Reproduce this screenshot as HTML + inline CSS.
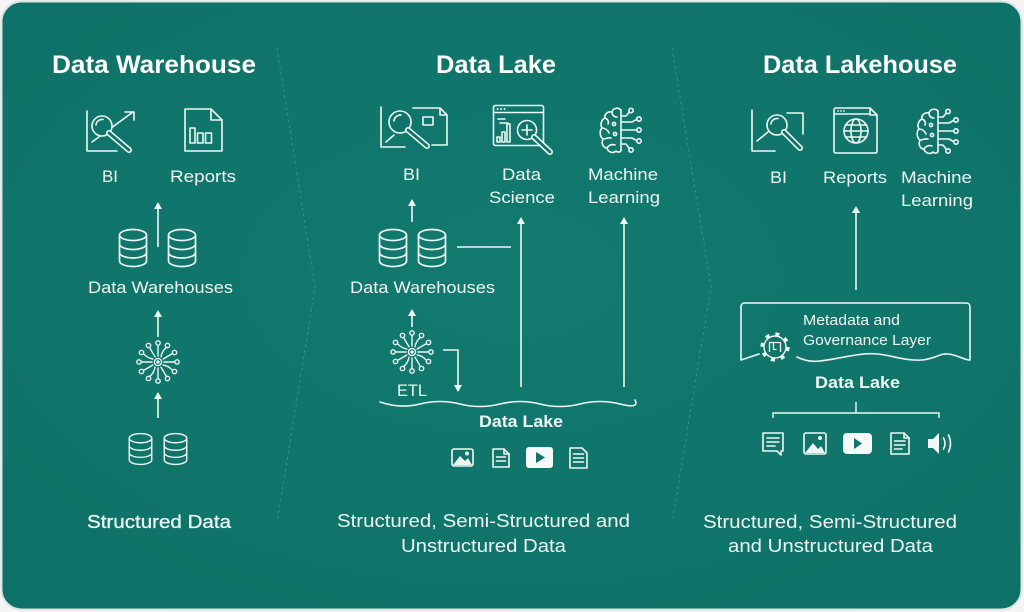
<!DOCTYPE html>
<html>
<head>
<meta charset="utf-8">
<style>
  html,body{margin:0;padding:0;background:#f3f5f4;}
  svg{display:block;}
  text{font-family:"Liberation Sans", Arial, sans-serif;fill:#EEF7F4;}
  .t{font-size:25px;font-weight:bold;fill:#ffffff;}
  .l{font-size:17px;}
  .b{font-size:17px;font-weight:bold;}
  .s{font-size:18px;}
  .m{font-size:15px;}
  .ic{fill:none;stroke:#EEF7F4;stroke-width:1.6;stroke-linecap:round;stroke-linejoin:round;}
</style>
</head>
<body>
<svg width="1024" height="612" viewBox="0 0 1024 612" xmlns="http://www.w3.org/2000/svg">
  <defs>
    <radialGradient id="bg" cx="50%" cy="45%" r="70%">
      <stop offset="0" stop-color="#127A6F"/>
      <stop offset="1" stop-color="#0E7167"/>
    </radialGradient>
    <symbol id="db" viewBox="0 0 30 40">
      <g fill="none" stroke="#EEF7F4" stroke-width="1.7" stroke-linecap="round">
        <ellipse cx="15" cy="7" rx="13.5" ry="5.5"/>
        <path d="M1.5 7 V33 A13.5 5.5 0 0 0 28.5 33 V7"/>
        <path d="M1.5 16 A13.5 5.5 0 0 0 28.5 16"/>
        <path d="M1.5 24.5 A13.5 5.5 0 0 0 28.5 24.5"/>
      </g>
    </symbol>
    <symbol id="hub" viewBox="-22 -22 44 44">
      <g fill="none" stroke="#EEF7F4" stroke-width="1.4" stroke-linecap="round">
        <circle cx="0" cy="0" r="3.6"/>
        <circle cx="0" cy="0" r="1" fill="#EEF7F4"/>
        <path d="M6 0 H16.5"/><circle cx="19" cy="0" r="2.2"/>
        <path d="M5.2 3 Q11 4 14.3 8.25"/><circle cx="16.5" cy="9.5" r="2.2"/>
        <path d="M3 5.2 Q6 10 8.25 14.3"/><circle cx="9.5" cy="16.5" r="2.2"/>
        <path d="M0 6 V16.5"/><circle cx="0" cy="19" r="2.2"/>
        <path d="M-3 5.2 Q-4 11 -8.25 14.3"/><circle cx="-9.5" cy="16.5" r="2.2"/>
        <path d="M-5.2 3 Q-10 6 -14.3 8.25"/><circle cx="-16.5" cy="9.5" r="2.2"/>
        <path d="M-6 0 H-16.5"/><circle cx="-19" cy="0" r="2.2"/>
        <path d="M-5.2 -3 Q-11 -4 -14.3 -8.25"/><circle cx="-16.5" cy="-9.5" r="2.2"/>
        <path d="M-3 -5.2 Q-6 -10 -8.25 -14.3"/><circle cx="-9.5" cy="-16.5" r="2.2"/>
        <path d="M0 -6 V-16.5"/><circle cx="0" cy="-19" r="2.2"/>
        <path d="M3 -5.2 Q4 -11 8.25 -14.3"/><circle cx="9.5" cy="-16.5" r="2.2"/>
        <path d="M5.2 -3 Q10 -6 14.3 -8.25"/><circle cx="16.5" cy="-9.5" r="2.2"/>
      </g>
    </symbol>
    <symbol id="brain" viewBox="0 0 46 47">
      <g fill="none" stroke="#EEF7F4" stroke-width="1.6" stroke-linecap="round" stroke-linejoin="round">
        <path d="M22 3 C19 0 14 1 13 5 C9 4 5 7 6 11 C2 13 1 18 3 21 C0 24 1 30 4 32 C2 36 4 41 8 41 C9 45 14 47 17 44 C19 46 22 45 22 43"/>
        <path d="M22 3 V43"/>
        <path d="M13 5 C13 8 15 10 18 10"/>
        <path d="M6 11 C9 12 10 15 9 17"/>
        <path d="M3 21 C6 21 9 23 10 26"/>
        <path d="M4 32 C7 32 9 30 12 31"/>
        <path d="M8 41 C10 38 13 37 16 38"/>
        <circle cx="15" cy="17" r="1.6"/>
        <circle cx="16" cy="27" r="1.6"/>
        <path d="M22 9 H27 L30 5.5"/><circle cx="32" cy="3.5" r="2.2"/>
        <path d="M22 15 H33 L37.5 12.5"/><circle cx="40" cy="12" r="2.2"/>
        <path d="M22 23 H37.5"/><circle cx="40" cy="23" r="2.2"/>
        <path d="M22 31 H33 L37.5 33.5"/><circle cx="40" cy="34" r="2.2"/>
        <path d="M22 37 H27 L30 41"/><circle cx="32" cy="43" r="2.2"/>
      </g>
    </symbol>
  </defs>

  <!-- card -->
  <rect x="1.5" y="1.5" width="1020" height="608" rx="20" ry="20" fill="url(#bg)" stroke="#dce5e2" stroke-width="2"/>

  <!-- dashed dividers -->
  <path d="M277 48 L315 287 L277 523" fill="none" stroke="#4FA79B" stroke-opacity="0.55" stroke-width="1" stroke-dasharray="3 3"/>
  <path d="M672 48 L711 287 L672 523" fill="none" stroke="#4FA79B" stroke-opacity="0.55" stroke-width="1" stroke-dasharray="3 3"/>

  <!-- ============ LEFT: DATA WAREHOUSE ============ -->
  <text class="t" x="154" y="73" text-anchor="middle" textLength="204" lengthAdjust="spacingAndGlyphs">Data Warehouse</text>

  <!-- BI icon -->
  <g class="ic">
    <path d="M87 111 V151 H117"/>
    <path d="M92 142 L133 112"/>
    <path d="M125 112 H134 V120"/>
    <circle cx="102" cy="126" r="10" fill="#10746A"/>
    <path d="M96 125 A6 6 0 0 1 103 119.5"/>
  </g>
  <path d="M109 133 L129 150" stroke="#EEF7F4" stroke-width="6" stroke-linecap="round"/>
  <path d="M109 133 L129 150" stroke="#10746A" stroke-width="2.8" stroke-linecap="round"/>

  <!-- Reports icon -->
  <g class="ic">
    <path d="M185 109 H211 L222 120 V151 H185 Z"/>
    <path d="M211 109 V120 H222"/>
    <rect x="190" y="128" width="5" height="15"/>
    <rect x="197.5" y="133" width="5.5" height="10"/>
    <rect x="205.5" y="133" width="6" height="10"/>
  </g>

  <text class="l" x="110" y="182" text-anchor="middle" textLength="16" lengthAdjust="spacingAndGlyphs">BI</text>
  <text class="l" x="203" y="182" text-anchor="middle" textLength="66" lengthAdjust="spacingAndGlyphs">Reports</text>

  <!-- arrow up -->
  <g stroke="#EEF7F4" stroke-width="1.6" fill="#EEF7F4">
    <line x1="158" y1="247" x2="158" y2="208"/>
    <polygon points="154,209 158,202 162,209" stroke="none"/>
  </g>

  <use href="#db" x="118" y="228" width="30" height="40"/>
  <use href="#db" x="167" y="228" width="30" height="40"/>
  <text class="l" x="160.5" y="293" text-anchor="middle" textLength="145" lengthAdjust="spacingAndGlyphs">Data Warehouses</text>

  <g stroke="#EEF7F4" stroke-width="1.6" fill="#EEF7F4">
    <line x1="158" y1="337" x2="158" y2="316"/>
    <polygon points="154,317 158,310 162,317" stroke="none"/>
    <line x1="158" y1="418" x2="158" y2="398"/>
    <polygon points="154,399 158,392 162,399" stroke="none"/>
  </g>

  <use href="#hub" x="136" y="340" width="44" height="44"/>

  <use href="#db" x="128" y="432" width="25" height="34"/>
  <use href="#db" x="163" y="432" width="25" height="34"/>

  <text class="s" x="159" y="528" text-anchor="middle" textLength="144" lengthAdjust="spacingAndGlyphs" stroke="#EEF7F4" stroke-width="0.3">Structured Data</text>

  <!-- ============ MIDDLE: DATA LAKE ============ -->
  <text class="t" x="496" y="73" text-anchor="middle" textLength="120" lengthAdjust="spacingAndGlyphs">Data Lake</text>

  <!-- BI icon (with doc) -->
  <g class="ic">
    <path d="M381 107 V147 H405"/>
    <path d="M386 142 L394 135"/>
    <path d="M413 108 H440 L447 115 V145 H432"/>
    <path d="M440 108 V115 H447"/>
    <circle cx="400" cy="122" r="11" fill="#10746A"/>
    <path d="M394 121 A6.5 6.5 0 0 1 401 115"/>
    <rect x="423" y="117" width="10" height="8"/>
  </g>
  <path d="M408 130 L427 146" stroke="#EEF7F4" stroke-width="6" stroke-linecap="round"/>
  <path d="M408 130 L427 146" stroke="#10746A" stroke-width="2.8" stroke-linecap="round"/>

  <!-- Data science icon -->
  <g class="ic">
    <rect x="493.5" y="105.5" width="50" height="40" rx="2"/>
    <path d="M493.5 112.5 H543.5"/>
    <path d="M498 119 H505"/>
    <path d="M500 123 H508"/>
    <rect x="497" y="137" width="3" height="5"/>
    <rect x="502" y="132" width="3" height="10"/>
    <rect x="507" y="124" width="3" height="18"/>
    <circle cx="527" cy="130" r="9.5" fill="#10746A"/>
    <path d="M527 125 V135 M522 130 H532"/>
  </g>
  <g fill="#EEF7F4">
    <circle cx="497.5" cy="109" r="1"/>
    <circle cx="501" cy="109" r="1"/>
    <circle cx="504.5" cy="109" r="1"/>
  </g>
  <path d="M534 137 L550 152" stroke="#EEF7F4" stroke-width="6" stroke-linecap="round"/>
  <path d="M534 137 L550 152" stroke="#10746A" stroke-width="2.8" stroke-linecap="round"/>

  <!-- ML brain -->
  <use href="#brain" x="599" y="107" width="46" height="47"/>

  <text class="l" x="411.5" y="180" text-anchor="middle" textLength="17" lengthAdjust="spacingAndGlyphs">BI</text>
  <text class="l" x="521.5" y="180" text-anchor="middle" textLength="39" lengthAdjust="spacingAndGlyphs">Data</text>
  <text class="l" x="522" y="203" text-anchor="middle" textLength="66" lengthAdjust="spacingAndGlyphs">Science</text>
  <text class="l" x="623" y="180" text-anchor="middle" textLength="70" lengthAdjust="spacingAndGlyphs">Machine</text>
  <text class="l" x="624" y="203" text-anchor="middle" textLength="72" lengthAdjust="spacingAndGlyphs">Learning</text>

  <g stroke="#EEF7F4" stroke-width="1.6" fill="#EEF7F4">
    <line x1="412" y1="222" x2="412" y2="205"/>
    <polygon points="408,206 412,199 416,206" stroke="none"/>
    <line x1="521" y1="387" x2="521" y2="223"/>
    <polygon points="517,224 521,217 525,224" stroke="none"/>
    <line x1="624" y1="387" x2="624" y2="223"/>
    <polygon points="620,224 624,217 628,224" stroke="none"/>
    <line x1="457" y1="247" x2="511" y2="247"/>
    <line x1="412" y1="327" x2="412" y2="315"/>
    <polygon points="408,316 412,309 416,316" stroke="none"/>
    <path d="M443 350 H458 V386" fill="none"/>
    <polygon points="454,385 458,392 462,385" stroke="none"/>
  </g>

  <use href="#db" x="378" y="228" width="30" height="40"/>
  <use href="#db" x="417" y="228" width="30" height="40"/>
  <text class="l" x="422.5" y="293" text-anchor="middle" textLength="145" lengthAdjust="spacingAndGlyphs">Data Warehouses</text>

  <use href="#hub" x="390" y="330" width="44" height="44"/>
  <text class="l" x="412" y="396" text-anchor="middle" textLength="30" lengthAdjust="spacingAndGlyphs">ETL</text>

  <!-- wave -->
  <path d="M380 402 Q400 409 420 404 T460 404 T500 404 T540 404 T580 404 T620 404 T635 400" fill="none" stroke="#EEF7F4" stroke-width="1.6" stroke-linecap="round"/>

  <text class="b" x="521" y="427" text-anchor="middle" textLength="84" lengthAdjust="spacingAndGlyphs">Data Lake</text>

  <!-- data lake icons -->
  <g class="ic">
    <rect x="452" y="449" width="21" height="17" rx="2"/>
    <path d="M493 449 H504 L509 454 V467 H493 Z"/>
    <path d="M504 449 V454 H509"/>
    <path d="M496.5 457 H505.5 M496.5 461 H505.5"/>
    <path d="M570 448 H582 L587 453 V468 H570 Z"/>
    <path d="M573.5 454 H583.5 M573.5 458 H583.5 M573.5 462 H583.5"/>
  </g>
  <path d="M453 465 L460 456 L465 461 L468 458 L472 465 Z" fill="#EEF7F4"/>
  <circle cx="467" cy="453.5" r="2" fill="#EEF7F4"/>
  <rect x="526" y="447" width="27" height="21" rx="3" fill="#F4FAF8"/>
  <polygon points="536,452 536,463 545,457.5" fill="#10746A"/>

  <text class="s" x="483.5" y="527" text-anchor="middle" textLength="293" lengthAdjust="spacingAndGlyphs">Structured, Semi-Structured and</text>
  <text class="s" x="483.5" y="552" text-anchor="middle" textLength="165" lengthAdjust="spacingAndGlyphs">Unstructured Data</text>

  <!-- ============ RIGHT: DATA LAKEHOUSE ============ -->
  <text class="t" x="860" y="73" text-anchor="middle" textLength="194" lengthAdjust="spacingAndGlyphs">Data Lakehouse</text>

  <!-- BI icon -->
  <g class="ic">
    <path d="M752 110 V151 H775"/>
    <path d="M757 141 L768 132"/>
    <path d="M787 113 H803 V134"/>
    <circle cx="777" cy="125" r="10" fill="#10746A"/>
    <path d="M771 124 A6 6 0 0 1 778 118.5"/>
  </g>
  <path d="M784 132 L800 148" stroke="#EEF7F4" stroke-width="6" stroke-linecap="round"/>
  <path d="M784 132 L800 148" stroke="#10746A" stroke-width="2.8" stroke-linecap="round"/>

  <!-- Reports globe -->
  <g class="ic">
    <path d="M836 108 H870 L877 115 V151 Q877 153 875 153 H836 Q834 153 834 151 V110 Q834 108 836 108 Z"/>
    <path d="M834 114 H870 M870 108 V115 H877"/>
    <circle cx="856" cy="131" r="12"/>
    <ellipse cx="856" cy="131" rx="5" ry="12"/>
    <path d="M844 131 H868 M845.5 125 H866.5 M845.5 137 H866.5"/>
  </g>
  <g fill="#EEF7F4">
    <circle cx="838" cy="111" r="0.9"/>
    <circle cx="841" cy="111" r="0.9"/>
    <circle cx="844" cy="111" r="0.9"/>
  </g>

  <use href="#brain" x="916" y="108" width="46" height="47"/>

  <text class="l" x="778.5" y="183" text-anchor="middle" textLength="17" lengthAdjust="spacingAndGlyphs">BI</text>
  <text class="l" x="855" y="183" text-anchor="middle" textLength="64" lengthAdjust="spacingAndGlyphs">Reports</text>
  <text class="l" x="936.5" y="183" text-anchor="middle" textLength="71" lengthAdjust="spacingAndGlyphs">Machine</text>
  <text class="l" x="937" y="206" text-anchor="middle" textLength="72" lengthAdjust="spacingAndGlyphs">Learning</text>

  <g stroke="#EEF7F4" stroke-width="1.6" fill="#EEF7F4">
    <line x1="856" y1="290" x2="856" y2="212"/>
    <polygon points="852,213 856,206 860,213" stroke="none"/>
  </g>

  <!-- metadata box -->
  <g class="ic" stroke-width="1.4">
    <path d="M759 354 Q750 357 741 360 V307 Q741 303 745 303 H966 Q970 303 970 307 V360"/>
    <path d="M797 357 C805 361 812 362 820 361 C840 359 860 352 878 354 C895 356 905 361 922 360 C935 359 940 353 948 354 C958 355 964 360 970 360"/>
  </g>
  <!-- gear -->
  <circle cx="775" cy="347" r="13.5" fill="#10746A"/>
  <circle cx="775" cy="347" r="11" fill="none" stroke="#EEF7F4" stroke-width="1.4"/>
  <circle cx="775" cy="347" r="13" fill="none" stroke="#EEF7F4" stroke-width="3.2" stroke-dasharray="4 6.2"/>
  <circle cx="775" cy="347" r="9.8" fill="#10746A"/>
  <path d="M769.5 352 V342.5 H780.5 V352 M773.5 342.5 V349.5 H776.5" fill="none" stroke="#EEF7F4" stroke-width="1.3" stroke-linejoin="round"/>

  <text class="m" x="803" y="325" textLength="97" lengthAdjust="spacingAndGlyphs">Metadata and</text>
  <text class="m" x="803" y="345" textLength="128" lengthAdjust="spacingAndGlyphs">Governance Layer</text>

  <text class="b" x="857.5" y="388" text-anchor="middle" textLength="85" lengthAdjust="spacingAndGlyphs">Data Lake</text>

  <!-- bracket -->
  <path d="M856 402 V413 M773 418 V413 H939 V418" fill="none" stroke="#EEF7F4" stroke-width="1.4"/>

  <!-- right icons -->
  <g class="ic">
    <path d="M763 433 H783 V451 H781 V455 L777 451 H763 Z"/>
    <path d="M767 438 H779 M767 442 H779 M767 446 H775"/>
    <rect x="804" y="433" width="22" height="21" rx="2"/>
    <path d="M891 433 H904 L909 438 V454 H891 Z"/>
    <path d="M904 433 V438 H909"/>
    <path d="M894.5 441 H905 M894.5 445 H905 M894.5 449 H902"/>
    <path d="M943.5 438 Q946.5 443.5 943.5 449"/>
    <path d="M948.5 435 Q952.5 443.5 948.5 452"/>
  </g>
  <path d="M805 453 L813 443 L818 449 L821 446 L825 453 Z" fill="#EEF7F4"/>
  <circle cx="820" cy="438" r="2" fill="#EEF7F4"/>
  <rect x="843" y="433" width="29" height="21" rx="4" fill="#F4FAF8"/>
  <polygon points="854,438 854,449 862,443.5" fill="#10746A"/>
  <path d="M928 439 H933 L939 433 V454 L933 448 H928 Z" fill="#EEF7F4"/>

  <text class="s" x="830" y="528" text-anchor="middle" textLength="254" lengthAdjust="spacingAndGlyphs">Structured, Semi-Structured</text>
  <text class="s" x="830.5" y="552" text-anchor="middle" textLength="205" lengthAdjust="spacingAndGlyphs">and Unstructured Data</text>
</svg>
</body>
</html>
